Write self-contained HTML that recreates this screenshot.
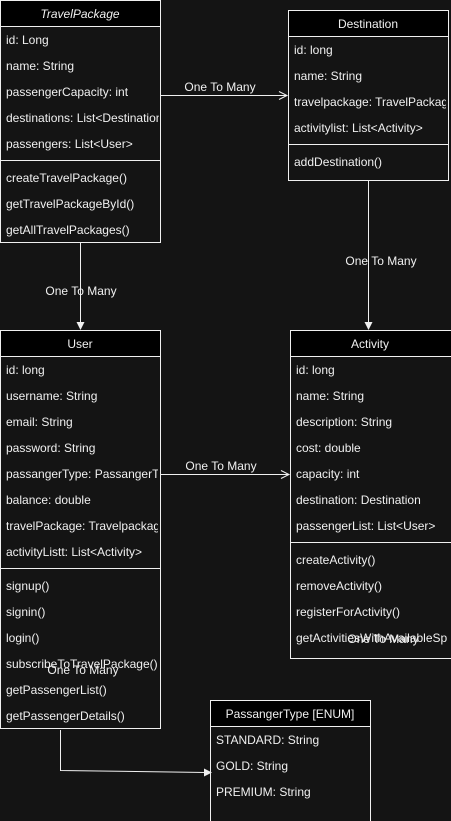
<!DOCTYPE html>
<html><head><meta charset="utf-8"><style>
html,body{margin:0;padding:0;background:#141414;}
svg{display:block;}
text{font-family:"Liberation Sans",sans-serif;font-size:12px;fill:#f0f0f0;}
</style></head><body>
<svg width="451" height="821" viewBox="0 0 451 821">
<rect width="451" height="821" fill="#141414"/>
<g stroke="#f0f0f0" fill="none" stroke-width="1">
<rect x="0.5" y="0.5" width="160" height="242" fill="#141414"/>
<rect x="0.5" y="0.5" width="160" height="26" fill="#000"/>
<line x1="0.5" y1="160.5" x2="160.5" y2="160.5"/>
<rect x="288.5" y="10.5" width="160" height="170" fill="#141414"/>
<rect x="288.5" y="10.5" width="160" height="26" fill="#000"/>
<line x1="288.5" y1="144.5" x2="448.5" y2="144.5"/>
<rect x="0.5" y="330.5" width="160" height="398" fill="#141414"/>
<rect x="0.5" y="330.5" width="160" height="26" fill="#000"/>
<line x1="0.5" y1="568.5" x2="160.5" y2="568.5"/>
<rect x="290.5" y="330.5" width="162" height="328" fill="#141414"/>
<rect x="290.5" y="330.5" width="162" height="26" fill="#000"/>
<line x1="290.5" y1="542.5" x2="452" y2="542.5"/>
<rect x="210.5" y="700.5" width="160" height="122" fill="#141414"/>
<rect x="210.5" y="700.5" width="160" height="26" fill="#000"/>
<line x1="160.5" y1="95.5" x2="286" y2="95.5"/>
<polyline points="279,91.5 287,95.5 279,99.5"/>
<line x1="368.5" y1="180.5" x2="368.5" y2="326"/>
<line x1="80.5" y1="242.5" x2="80.5" y2="326"/>
<line x1="160.5" y1="474.5" x2="288" y2="474.5"/>
<polyline points="281,470.5 289,474.5 281,478.5"/>
<polyline points="60.5,730 60.5,770.5 206,772.5"/>
</g>
<g fill="#f0f0f0">
<polygon points="364.5,322 372.5,322 368.5,330"/>
<polygon points="76.5,322 84.5,322 80.5,330"/>
<polygon points="204,768.5 212,772.5 204,776.5"/>
</g>
<text x="80" y="18" text-anchor="middle" font-style="italic">TravelPackage</text>
<svg x="0" y="26" width="159" height="216" overflow="hidden">
<text x="6" y="18">id: Long</text>
<text x="6" y="44">name: String</text>
<text x="6" y="70">passengerCapacity: int</text>
<text x="6" y="96">destinations: List&lt;Destinations&gt;</text>
<text x="6" y="122">passengers: List&lt;User&gt;</text>
<text x="6" y="156">createTravelPackage()</text>
<text x="6" y="182">getTravelPackageById()</text>
<text x="6" y="208">getAllTravelPackages()</text>
</svg>
<text x="368" y="28" text-anchor="middle">Destination</text>
<svg x="288" y="36" width="158" height="140" overflow="hidden">
<text x="6" y="18">id: long</text>
<text x="6" y="44">name: String</text>
<text x="6" y="70">travelpackage: TravelPackage</text>
<text x="6" y="96">activitylist: List&lt;Activity&gt;</text>
<text x="6" y="130">addDestination()</text>
</svg>
<text x="80" y="348" text-anchor="middle">User</text>
<svg x="0" y="356" width="158" height="372" overflow="hidden">
<text x="6" y="18">id: long</text>
<text x="6" y="44">username: String</text>
<text x="6" y="70">email: String</text>
<text x="6" y="96">password: String</text>
<text x="6" y="122">passangerType: PassangerType</text>
<text x="6" y="148">balance: double</text>
<text x="6" y="174">travelPackage: Travelpackage</text>
<text x="6" y="200">activityListt: List&lt;Activity&gt;</text>
<text x="6" y="234">signup()</text>
<text x="6" y="260">signin()</text>
<text x="6" y="286">login()</text>
<text x="6" y="312">subscribeToTravelPackage()</text>
<text x="6" y="338">getPassengerList()</text>
<text x="6" y="364">getPassengerDetails()</text>
</svg>
<text x="370" y="348" text-anchor="middle">Activity</text>
<svg x="290" y="356" width="157" height="302" overflow="hidden">
<text x="6" y="18">id: long</text>
<text x="6" y="44">name: String</text>
<text x="6" y="70">description: String</text>
<text x="6" y="96">cost: double</text>
<text x="6" y="122">capacity: int</text>
<text x="6" y="148">destination: Destination</text>
<text x="6" y="174">passengerList: List&lt;User&gt;</text>
<text x="6" y="208">createActivity()</text>
<text x="6" y="234">removeActivity()</text>
<text x="6" y="260">registerForActivity()</text>
<text x="6" y="286">getActivitiesWithAvailableSpaces()</text>
</svg>
<text x="290" y="718" text-anchor="middle">PassangerType [ENUM]</text>
<text x="216" y="744">STANDARD: String</text>
<text x="216" y="770">GOLD: String</text>
<text x="216" y="796">PREMIUM: String</text>
<text x="220" y="91" text-anchor="middle">One To Many</text>
<text x="381" y="265" text-anchor="middle">One To Many</text>
<text x="81" y="295" text-anchor="middle">One To Many</text>
<text x="221" y="470" text-anchor="middle">One To Many</text>
<text x="83" y="674" text-anchor="middle">One To Many</text>
<text x="383" y="643" text-anchor="middle">One To Many</text>
</svg>
</body></html>
